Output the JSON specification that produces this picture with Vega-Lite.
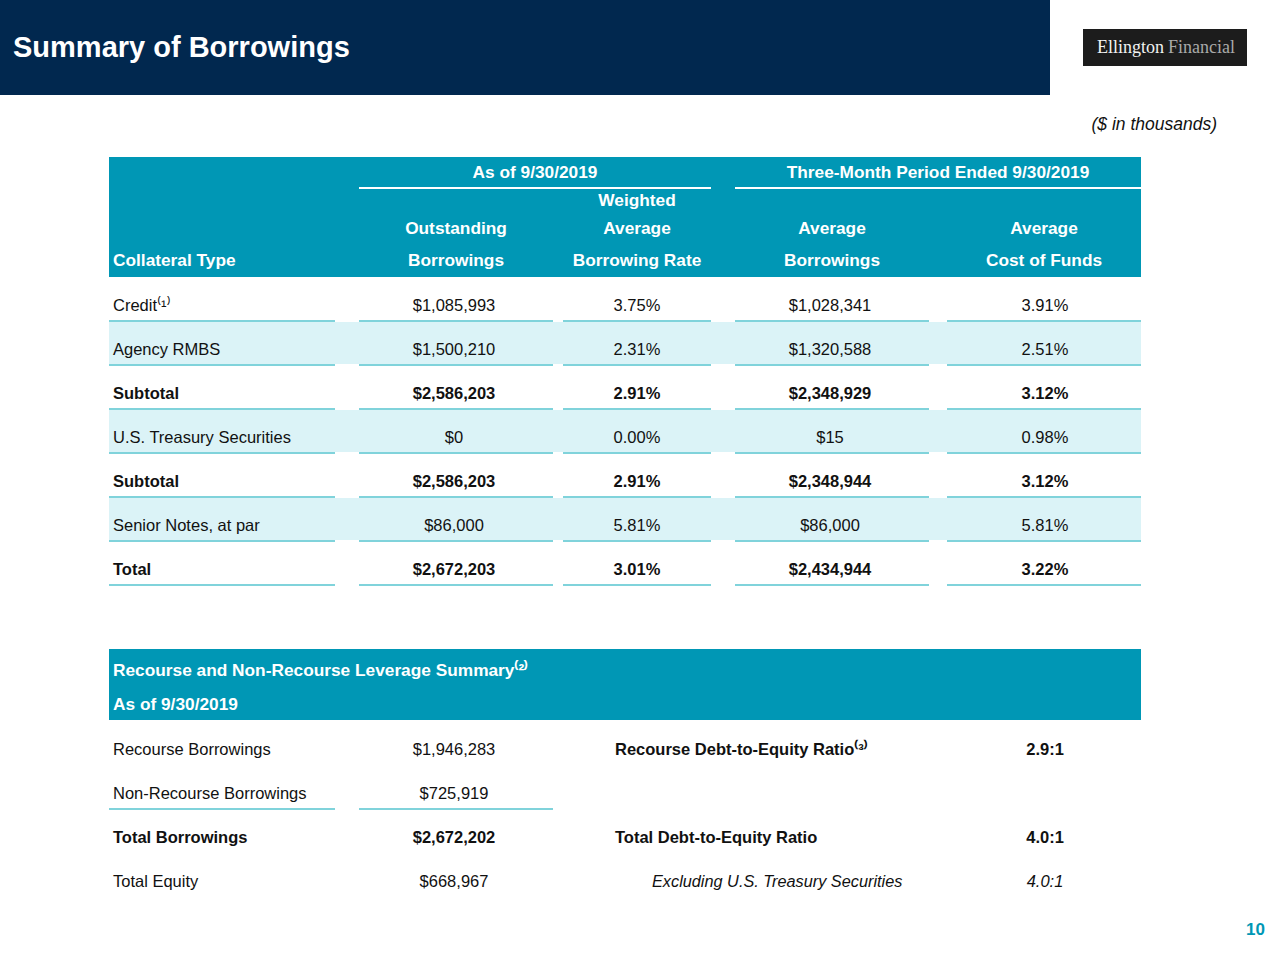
{
  "$schema": "https://vega.github.io/schema/vega-lite/v6.json",
  "width": 1280,
  "height": 960,
  "padding": 0,
  "autosize": "none",
  "background": "white",
  "config": {"view": {"stroke": null}, "text": {"font": "Liberation Sans, Arial, sans-serif", "baseline": "middle"}},
  "datasets": {
    "cells": [
      {"row": -4, "col": 1, "text": "As of 9/30/2019", "kind": "span"},
      {"row": -4, "col": 3, "text": "Three-Month Period Ended 9/30/2019", "kind": "span"},
      {"row": -3, "col": 2, "text": "Weighted", "kind": "head"},
      {"row": -2, "col": 1, "text": "Outstanding", "kind": "head"},
      {"row": -2, "col": 2, "text": "Average", "kind": "head"},
      {"row": -2, "col": 3, "text": "Average", "kind": "head"},
      {"row": -2, "col": 4, "text": "Average", "kind": "head"},
      {"row": -1, "col": 0, "text": "Collateral Type", "kind": "head"},
      {"row": -1, "col": 1, "text": "Borrowings", "kind": "head"},
      {"row": -1, "col": 2, "text": "Borrowing Rate", "kind": "head"},
      {"row": -1, "col": 3, "text": "Borrowings", "kind": "head"},
      {"row": -1, "col": 4, "text": "Cost of Funds", "kind": "head"},
      {"row": 0, "col": 0, "text": "Credit⁽¹⁾", "kind": "item"},
      {"row": 0, "col": 1, "text": "$1,085,993", "kind": "item"},
      {"row": 0, "col": 2, "text": "3.75%", "kind": "item"},
      {"row": 0, "col": 3, "text": "$1,028,341", "kind": "item"},
      {"row": 0, "col": 4, "text": "3.91%", "kind": "item"},
      {"row": 1, "col": 0, "text": "Agency RMBS", "kind": "item"},
      {"row": 1, "col": 1, "text": "$1,500,210", "kind": "item"},
      {"row": 1, "col": 2, "text": "2.31%", "kind": "item"},
      {"row": 1, "col": 3, "text": "$1,320,588", "kind": "item"},
      {"row": 1, "col": 4, "text": "2.51%", "kind": "item"},
      {"row": 2, "col": 0, "text": "Subtotal", "kind": "total"},
      {"row": 2, "col": 1, "text": "$2,586,203", "kind": "total"},
      {"row": 2, "col": 2, "text": "2.91%", "kind": "total"},
      {"row": 2, "col": 3, "text": "$2,348,929", "kind": "total"},
      {"row": 2, "col": 4, "text": "3.12%", "kind": "total"},
      {"row": 3, "col": 0, "text": "U.S. Treasury Securities", "kind": "item"},
      {"row": 3, "col": 1, "text": "$0", "kind": "item"},
      {"row": 3, "col": 2, "text": "0.00%", "kind": "item"},
      {"row": 3, "col": 3, "text": "$15", "kind": "item"},
      {"row": 3, "col": 4, "text": "0.98%", "kind": "item"},
      {"row": 4, "col": 0, "text": "Subtotal", "kind": "total"},
      {"row": 4, "col": 1, "text": "$2,586,203", "kind": "total"},
      {"row": 4, "col": 2, "text": "2.91%", "kind": "total"},
      {"row": 4, "col": 3, "text": "$2,348,944", "kind": "total"},
      {"row": 4, "col": 4, "text": "3.12%", "kind": "total"},
      {"row": 5, "col": 0, "text": "Senior Notes, at par", "kind": "item"},
      {"row": 5, "col": 1, "text": "$86,000", "kind": "item"},
      {"row": 5, "col": 2, "text": "5.81%", "kind": "item"},
      {"row": 5, "col": 3, "text": "$86,000", "kind": "item"},
      {"row": 5, "col": 4, "text": "5.81%", "kind": "item"},
      {"row": 6, "col": 0, "text": "Total", "kind": "total"},
      {"row": 6, "col": 1, "text": "$2,672,203", "kind": "total"},
      {"row": 6, "col": 2, "text": "3.01%", "kind": "total"},
      {"row": 6, "col": 3, "text": "$2,434,944", "kind": "total"},
      {"row": 6, "col": 4, "text": "3.22%", "kind": "total"},
      {"row": 7, "col": 0, "text": "Recourse and Non-Recourse Leverage Summary⁽²⁾", "kind": "head"},
      {"row": 8, "col": 0, "text": "As of 9/30/2019", "kind": "head"},
      {"row": 9, "col": 0, "text": "Recourse Borrowings", "kind": "item"},
      {"row": 9, "col": 1, "text": "$1,946,283", "kind": "item"},
      {"row": 9, "col": 5, "text": "Recourse Debt-to-Equity Ratio⁽³⁾", "kind": "total"},
      {"row": 9, "col": 4, "text": "2.9:1", "kind": "total"},
      {"row": 10, "col": 0, "text": "Non-Recourse Borrowings", "kind": "item"},
      {"row": 10, "col": 1, "text": "$725,919", "kind": "item"},
      {"row": 11, "col": 0, "text": "Total Borrowings", "kind": "total"},
      {"row": 11, "col": 1, "text": "$2,672,202", "kind": "total"},
      {"row": 11, "col": 5, "text": "Total Debt-to-Equity Ratio", "kind": "total"},
      {"row": 11, "col": 4, "text": "4.0:1", "kind": "total"},
      {"row": 12, "col": 0, "text": "Total Equity", "kind": "item"},
      {"row": 12, "col": 1, "text": "$668,967", "kind": "item"},
      {"row": 12, "col": 5, "text": "Excluding U.S. Treasury Securities", "kind": "italic"},
      {"row": 12, "col": 4, "text": "4.0:1", "kind": "italic"}
    ],
    "lines": [
      {"row": -4, "from": 2, "to": 5}, {"row": -4, "from": 6, "to": 9},
      {"row": 0, "from": 0, "to": 1}, {"row": 0, "from": 2, "to": 3}, {"row": 0, "from": 4, "to": 5}, {"row": 0, "from": 6, "to": 7}, {"row": 0, "from": 8, "to": 9},
      {"row": 1, "from": 0, "to": 1}, {"row": 1, "from": 2, "to": 3}, {"row": 1, "from": 4, "to": 5}, {"row": 1, "from": 6, "to": 7}, {"row": 1, "from": 8, "to": 9},
      {"row": 2, "from": 0, "to": 1}, {"row": 2, "from": 2, "to": 3}, {"row": 2, "from": 4, "to": 5}, {"row": 2, "from": 6, "to": 7}, {"row": 2, "from": 8, "to": 9},
      {"row": 3, "from": 0, "to": 1}, {"row": 3, "from": 2, "to": 3}, {"row": 3, "from": 4, "to": 5}, {"row": 3, "from": 6, "to": 7}, {"row": 3, "from": 8, "to": 9},
      {"row": 4, "from": 0, "to": 1}, {"row": 4, "from": 2, "to": 3}, {"row": 4, "from": 4, "to": 5}, {"row": 4, "from": 6, "to": 7}, {"row": 4, "from": 8, "to": 9},
      {"row": 5, "from": 0, "to": 1}, {"row": 5, "from": 2, "to": 3}, {"row": 5, "from": 4, "to": 5}, {"row": 5, "from": 6, "to": 7}, {"row": 5, "from": 8, "to": 9},
      {"row": 6, "from": 0, "to": 1}, {"row": 6, "from": 2, "to": 3}, {"row": 6, "from": 4, "to": 5}, {"row": 6, "from": 6, "to": 7}, {"row": 6, "from": 8, "to": 9},
      {"row": 10, "from": 0, "to": 1}, {"row": 10, "from": 2, "to": 3}
    ],
    "fills": [
      {"row": 1, "from": 0, "to": 9},
      {"row": 3, "from": 0, "to": 9},
      {"row": 5, "from": 0, "to": 9}
    ],
    "boxes": [
      {"part": "t1", "row": -4, "row2": -1, "from": 0, "to": 9},
      {"part": "t2", "row": 7, "row2": 8, "from": 0, "to": 9}
    ],
    "frame": [
      {"part": "banner", "row": -10, "row2": -8, "from": 0, "to": 1},
      {"part": "logobox", "row": -9, "row2": -9, "from": 0, "to": 1},
      {"part": "title", "row": -9, "col": 0, "text": "Summary of Borrowings"},
      {"part": "logo", "row": -9, "col": 0, "text": "Ellington"},
      {"part": "logo", "row": -9, "col": 1, "text": "Financial"},
      {"part": "note", "row": -7, "col": 0, "text": "($ in thousands)"},
      {"part": "pageno", "row": 13, "col": 0, "text": "10"}
    ]
  },
  "encoding": {
    "y": {
      "field": "row",
      "type": "quantitative",
      "axis": null,
      "scale": {
        "domain": [-10, -9, -8, -7, -4, -3, -2, -1, 0, 6, 7, 8, 9, 12, 13, 14],
        "range": [0, 48, 95, 125, 173, 201, 229, 261, 306, 570, 671, 705, 750, 882, 930, 960],
        "nice": false,
        "zero": false
      }
    }
  },
  "resolve": {"scale": {"x": "independent"}},
  "layer": [
    {
      "data": {"name": "frame"},
      "transform": [{"filter": "datum.part == 'banner'"}],
      "mark": {"type": "rect", "color": "#01284F"},
      "encoding": {
        "x": {"field": "from", "type": "quantitative", "axis": null, "scale": {"domain": [0, 1], "range": [0, 1050]}},
        "x2": {"field": "to"},
        "y2": {"field": "row2"}
      }
    },
    {
      "data": {"name": "frame"},
      "transform": [{"filter": "datum.part == 'logobox'"}],
      "mark": {"type": "rect", "color": "#1c1c1c", "yOffset": -19, "y2Offset": 18},
      "encoding": {
        "x": {"field": "from", "type": "quantitative", "axis": null, "scale": {"domain": [0, 1], "range": [1083, 1247]}},
        "x2": {"field": "to"},
        "y2": {"field": "row2"}
      }
    },
    {
      "data": {"name": "frame"},
      "transform": [{"filter": "datum.part == 'title'"}],
      "mark": {"type": "text", "align": "left", "color": "white", "fontSize": 29, "fontWeight": "bold"},
      "encoding": {
        "x": {"field": "col", "type": "quantitative", "axis": null, "scale": {"domain": [0, 1], "range": [13, 1280]}},
        "text": {"field": "text"}
      }
    },
    {
      "data": {"name": "frame"},
      "transform": [{"filter": "datum.part == 'logo'"}],
      "mark": {"type": "text", "align": "left", "fontSize": 18, "font": "Liberation Serif"},
      "encoding": {
        "x": {"field": "col", "type": "quantitative", "axis": null, "scale": {"domain": [0, 1], "range": [1097, 1168]}},
        "color": {"field": "col", "type": "nominal", "legend": null, "scale": {"domain": [0, 1], "range": ["#f2f2f2", "#a9a9a9"]}},
        "text": {"field": "text"}
      }
    },
    {
      "data": {"name": "frame"},
      "transform": [{"filter": "datum.part == 'note'"}],
      "mark": {"type": "text", "align": "right", "color": "#111111", "fontSize": 17.5, "fontStyle": "italic"},
      "encoding": {
        "x": {"field": "col", "type": "quantitative", "axis": null, "scale": {"domain": [0, 1], "range": [1217, 1280]}},
        "text": {"field": "text"}
      }
    },
    {
      "data": {"name": "frame"},
      "transform": [{"filter": "datum.part == 'pageno'"}],
      "mark": {"type": "text", "align": "right", "color": "#0097B5", "fontSize": 17, "fontWeight": "bold"},
      "encoding": {
        "x": {"field": "col", "type": "quantitative", "axis": null, "scale": {"domain": [0, 1], "range": [1265, 1280]}},
        "text": {"field": "text"}
      }
    },
    {
      "data": {"name": "boxes"},
      "transform": [{"filter": "datum.part == 't1'"}],
      "mark": {"type": "rect", "color": "#0097B5", "yOffset": -16, "y2Offset": 16},
      "encoding": {
        "x": {"field": "from", "type": "quantitative", "axis": null, "scale": {"domain": [0, 1, 2, 3, 4, 5, 6, 7, 8, 9], "range": [109, 335, 359, 553, 563, 711, 735, 929, 947, 1141]}},
        "x2": {"field": "to"},
        "y2": {"field": "row2"}
      }
    },
    {
      "data": {"name": "boxes"},
      "transform": [{"filter": "datum.part == 't2'"}],
      "mark": {"type": "rect", "color": "#0097B5", "yOffset": -22, "y2Offset": 15},
      "encoding": {
        "x": {"field": "from", "type": "quantitative", "axis": null, "scale": {"domain": [0, 1, 2, 3, 4, 5, 6, 7, 8, 9], "range": [109, 335, 359, 553, 563, 711, 735, 929, 947, 1141]}},
        "x2": {"field": "to"},
        "y2": {"field": "row2"}
      }
    },
    {
      "data": {"name": "fills"},
      "mark": {"type": "rect", "color": "#DBF3F7", "yOffset": -28, "y2Offset": 14},
      "encoding": {
        "x": {"field": "from", "type": "quantitative", "axis": null, "scale": {"domain": [0, 1, 2, 3, 4, 5, 6, 7, 8, 9], "range": [109, 335, 359, 553, 563, 711, 735, 929, 947, 1141]}},
        "x2": {"field": "to"},
        "y2": {"field": "row"}
      }
    },
    {
      "data": {"name": "lines"},
      "transform": [{"filter": "datum.row >= 0"}],
      "mark": {"type": "rect", "color": "#80D3DB", "yOffset": 14, "y2Offset": 16},
      "encoding": {
        "x": {"field": "from", "type": "quantitative", "axis": null, "scale": {"domain": [0, 1, 2, 3, 4, 5, 6, 7, 8, 9], "range": [109, 335, 359, 553, 563, 711, 735, 929, 947, 1141]}},
        "x2": {"field": "to"},
        "y2": {"field": "row"}
      }
    },
    {
      "data": {"name": "lines"},
      "transform": [{"filter": "datum.row < 0"}],
      "mark": {"type": "rect", "color": "#ffffff", "yOffset": 14, "y2Offset": 16},
      "encoding": {
        "x": {"field": "from", "type": "quantitative", "axis": null, "scale": {"domain": [0, 1, 2, 3, 4, 5, 6, 7, 8, 9], "range": [109, 335, 359, 553, 563, 711, 735, 929, 947, 1141]}},
        "x2": {"field": "to"},
        "y2": {"field": "row"}
      }
    },
    {
      "data": {"name": "cells"},
      "transform": [{"filter": "datum.kind == 'item' && (datum.col == 0 || datum.col == 5)"}],
      "mark": {"type": "text", "align": "left", "color": "#111111", "fontSize": 16.5},
      "encoding": {
        "x": {"field": "col", "type": "quantitative", "axis": null, "scale": {"domain": [0, 5], "range": [113, 615]}},
        "text": {"field": "text"}
      }
    },
    {
      "data": {"name": "cells"},
      "transform": [{"filter": "datum.kind == 'total' && (datum.col == 0 || datum.col == 5)"}],
      "mark": {"type": "text", "align": "left", "color": "#111111", "fontSize": 16.5, "fontWeight": "bold"},
      "encoding": {
        "x": {"field": "col", "type": "quantitative", "axis": null, "scale": {"domain": [0, 5], "range": [113, 615]}},
        "text": {"field": "text"}
      }
    },
    {
      "data": {"name": "cells"},
      "transform": [{"filter": "datum.kind == 'head' && datum.col == 0"}],
      "mark": {"type": "text", "align": "left", "color": "#ffffff", "fontSize": 17.3, "fontWeight": "bold"},
      "encoding": {
        "x": {"field": "col", "type": "quantitative", "axis": null, "scale": {"domain": [0, 5], "range": [113, 615]}},
        "text": {"field": "text"}
      }
    },
    {
      "data": {"name": "cells"},
      "transform": [{"filter": "datum.kind == 'italic' && datum.col == 5"}],
      "mark": {"type": "text", "align": "left", "color": "#111111", "fontSize": 16.3, "fontStyle": "italic"},
      "encoding": {
        "x": {"field": "col", "type": "quantitative", "axis": null, "scale": {"domain": [0, 5], "range": [150, 652]}},
        "text": {"field": "text"}
      }
    },
    {
      "data": {"name": "cells"},
      "transform": [{"filter": "datum.kind == 'item' && datum.col >= 1 && datum.col <= 4"}],
      "mark": {"type": "text", "align": "center", "color": "#111111", "fontSize": 16.5},
      "encoding": {
        "x": {"field": "col", "type": "quantitative", "axis": null, "scale": {"domain": [1, 2, 3, 4], "range": [454, 637, 830, 1045]}},
        "text": {"field": "text"}
      }
    },
    {
      "data": {"name": "cells"},
      "transform": [{"filter": "datum.kind == 'total' && datum.col >= 1 && datum.col <= 4"}],
      "mark": {"type": "text", "align": "center", "color": "#111111", "fontSize": 16.5, "fontWeight": "bold"},
      "encoding": {
        "x": {"field": "col", "type": "quantitative", "axis": null, "scale": {"domain": [1, 2, 3, 4], "range": [454, 637, 830, 1045]}},
        "text": {"field": "text"}
      }
    },
    {
      "data": {"name": "cells"},
      "transform": [{"filter": "datum.kind == 'italic' && datum.col >= 1 && datum.col <= 4"}],
      "mark": {"type": "text", "align": "center", "color": "#111111", "fontSize": 16.5, "fontStyle": "italic"},
      "encoding": {
        "x": {"field": "col", "type": "quantitative", "axis": null, "scale": {"domain": [1, 2, 3, 4], "range": [454, 637, 830, 1045]}},
        "text": {"field": "text"}
      }
    },
    {
      "data": {"name": "cells"},
      "transform": [{"filter": "datum.kind == 'head' && datum.col >= 1"}],
      "mark": {"type": "text", "align": "center", "color": "#ffffff", "fontSize": 17.3, "fontWeight": "bold"},
      "encoding": {
        "x": {"field": "col", "type": "quantitative", "axis": null, "scale": {"domain": [1, 2, 3, 4], "range": [456, 637, 832, 1044]}},
        "text": {"field": "text"}
      }
    },
    {
      "data": {"name": "cells"},
      "transform": [{"filter": "datum.kind == 'span'"}],
      "mark": {"type": "text", "align": "center", "color": "#ffffff", "fontSize": 17.3, "fontWeight": "bold"},
      "encoding": {
        "x": {"field": "col", "type": "quantitative", "axis": null, "scale": {"domain": [1, 3], "range": [535, 938]}},
        "text": {"field": "text"}
      }
    }
  ]
}
